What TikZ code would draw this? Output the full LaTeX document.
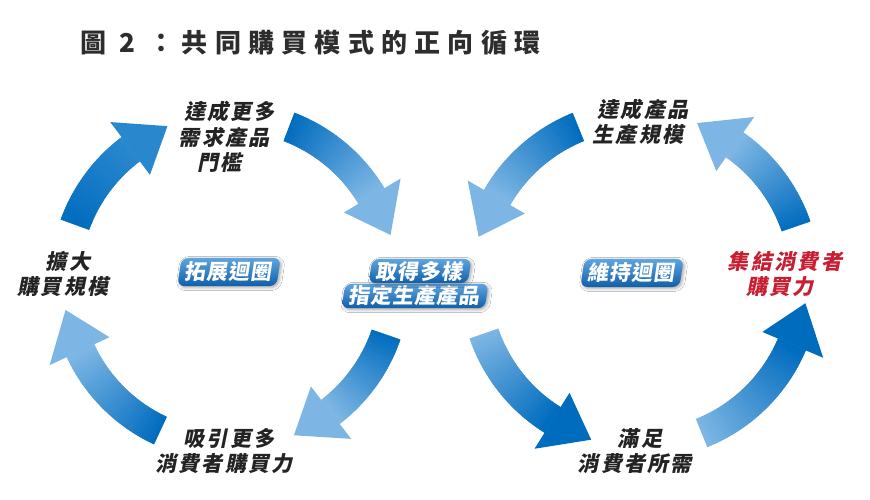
\documentclass[tikz,border=0pt]{standalone}
\usepackage{fontspec}
\usetikzlibrary{shadows.blur}
\newfontfamily\titlefont[LetterSpace=28]{Noto Sans CJK TC}
\newfontfamily\labfont[LetterSpace=11]{Noto Sans CJK TC}
\newfontfamily\badgefont[LetterSpace=5]{Noto Sans CJK TC}
\definecolor{abD}{RGB}{0,108,190}
\definecolor{abM}{RGB}{40,135,205}
\definecolor{abL}{RGB}{125,182,228}
\definecolor{txt}{RGB}{35,35,35}
\definecolor{titletxt}{RGB}{45,45,45}
\definecolor{redtxt}{RGB}{200,30,50}
\definecolor{bdTop}{RGB}{95,165,222}
\definecolor{bdBot}{RGB}{15,95,170}
% #1 centre coordinate, #2 start angle, #3 tip angle, #4 start colour, #5 end colour
\newcommand\loopArrow[5]{%
  \pgfmathsetmacro\hb{#3-15*sign(#3-#2)}%
  \foreach \k in {0,...,39}{%
    \pgfmathsetmacro\ta{#2+(\hb-#2)*\k/40}%
    \pgfmathsetmacro\tb{#2+(\hb-#2)*(\k+1)/40}%
    \pgfmathtruncatemacro\pc{100-\k*100/39}%
    \filldraw[line width=0.4pt, draw=#4!\pc!#5, fill=#4!\pc!#5]
      ([shift={(\ta:180pt)}]#1) arc[start angle=\ta, end angle=\tb, radius=180pt]
      -- ([shift={(\tb:150pt)}]#1) arc[start angle=\tb, end angle=\ta, radius=150pt] -- cycle;
  }%
  \fill[#5] ([shift={(\hb:199pt)}]#1) -- ([shift={(#3:167pt)}]#1) -- ([shift={(\hb:133pt)}]#1) -- cycle;
}
\begin{document}
\begin{tikzpicture}[x=1pt,y=1pt,
  lab/.style={font=\labfont\bfseries\fontsize{21}{25.5}\selectfont, text=txt, align=center, inner sep=0pt, transform shape},
  badge/.style={rounded corners=7pt, top color=bdTop, bottom color=bdBot, text=white,
    font=\badgefont\bfseries\fontsize{21}{24}\selectfont, inner xsep=6pt, inner ysep=4pt, transform shape,
    blur shadow={shadow xshift=1.5pt, shadow yshift=-1.5pt, shadow blur radius=3pt, shadow opacity=35}}]
\useasboundingbox (0,0) rectangle (870,500);
\fill[white] (0,0) rectangle (870,500);

\node[anchor=west, inner sep=0pt, text=titletxt, font=\titlefont\bfseries\fontsize{26}{30}\selectfont] (title) at (80,457) {圖 2 ：共同購買模式的正向循環};

\coordinate (L) at (230,219);
\coordinate (R) at (640,220);

% left loop (clockwise)
\loopArrow{L}{160}{112}{abD}{abM}
\loopArrow{L}{69}{16}{abD}{abL}
\loopArrow{L}{-19}{-67.5}{abD}{abL}
\loopArrow{L}{-115}{-170}{abD}{abL}
% right loop (counter-clockwise)
\loopArrow{R}{112}{165}{abD}{abL}
\loopArrow{R}{199}{253}{abL}{abD}
\loopArrow{R}{292}{352}{abL}{abD}
\loopArrow{R}{19}{70}{abD}{abL}

\begin{scope}[shift={(226,363)}, xslant=0.2]\node[lab] (t1) at (0,0) {達成更多\\需求產品\\門檻};\end{scope}
\begin{scope}[shift={(642,378)}, xslant=0.2]\node[lab] (t2) at (0,0) {達成產品\\生產規模};\end{scope}
\begin{scope}[shift={(67,226)}, xslant=0.2]\node[lab] (t3) at (0,0) {擴大\\購買規模};\end{scope}
\begin{scope}[shift={(784,226)}, xslant=0.2]\node[lab, text=redtxt] (t4) at (0,0) {集結消費者\\購買力};\end{scope}
\begin{scope}[shift={(228,49)}, xslant=0.2]\node[lab] (t5) at (0,0) {吸引更多\\消費者購買力};\end{scope}
\begin{scope}[shift={(639,49)}, xslant=0.2]\node[lab] (t6) at (0,0) {滿足\\消費者所需};\end{scope}

\begin{scope}[shift={(229,228)}, xslant=0.15]\node[badge] (b1) at (0,0) {拓展迴圈};\end{scope}
\begin{scope}[shift={(632,227)}, xslant=0.15]\node[badge] (b2) at (0,0) {維持迴圈};\end{scope}
\begin{scope}[shift={(415,204)}, xslant=0.15]\node[badge, inner ysep=2pt] (m2) at (0,0) {指定生產產品};\end{scope}
\begin{scope}[shift={(420,229)}, xslant=0.15]\node[badge, inner ysep=2pt] (m1) at (0,0) {取得多樣};\end{scope}
\end{tikzpicture}
\end{document}
